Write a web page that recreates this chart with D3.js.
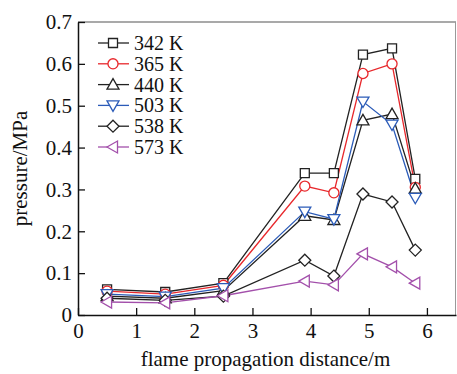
<!DOCTYPE html>
<html>
<head>
<meta charset="utf-8">
<script src="https://cdn.jsdelivr.net/npm/d3@7"></script>
<style>
  body { margin: 0; background: #fff; }
  svg text { font-family: "Liberation Serif", "Times New Roman", serif; }
</style>
</head>
<body>
<div id="chart"></div>
<script>
const distances = [0.5, 1.5, 2.5, 3.9, 4.4, 4.9, 5.4, 5.8];
const seriesNames = ['342 K', '365 K', '440 K', '503 K', '538 K', '573 K'];
const p342 = [0.061, 0.055, 0.076, 0.339, 0.339, 0.622, 0.637, 0.325];
const p365 = [0.057, 0.050, 0.071, 0.308, 0.292, 0.577, 0.600, 0.305];
const p440 = [0.045, 0.040, 0.058, 0.237, 0.227, 0.465, 0.480, 0.302];
const p503 = [0.050, 0.044, 0.064, 0.247, 0.229, 0.510, 0.455, 0.280];
const p538 = [0.040, 0.035, 0.045, 0.131, 0.093, 0.289, 0.270, 0.155];
const p573 = [0.031, 0.029, 0.046, 0.081, 0.072, 0.146, 0.115, 0.076];
const xTicks = [0, 1, 2, 3, 4, 5, 6];
const yTicks = [0, 0.1, 0.2, 0.3, 0.4, 0.5, 0.6, 0.7];

const series = [
  { name: seriesNames[0], values: p342, color: '#222', symbol: 'square' },
  { name: seriesNames[1], values: p365, color: '#e8282c', symbol: 'circle' },
  { name: seriesNames[2], values: p440, color: '#222', symbol: 'up' },
  { name: seriesNames[3], values: p503, color: '#2b5bb8', symbol: 'down' },
  { name: seriesNames[4], values: p538, color: '#222', symbol: 'diamond' },
  { name: seriesNames[5], values: p573, color: '#a350ab', symbol: 'left' }
];

const width = 457, height = 374;
const margin = { left: 78, right: 1, top: 22, bottom: 59 };
const fontSize = 21;

const svg = d3.select('#chart').append('svg')
  .attr('width', width)
  .attr('height', height);

const x = d3.scaleLinear().domain([0, 6.5]).range([margin.left, width - margin.right]);
const y = d3.scaleLinear().domain([0, 0.7]).range([height - margin.bottom, margin.top]);

// frame (top/right)
svg.append('line')
  .attr('x1', margin.left).attr('x2', width - margin.right)
  .attr('y1', margin.top).attr('y2', margin.top)
  .attr('stroke', '#555').attr('stroke-width', 1.2);
svg.append('line')
  .attr('x1', width - margin.right - 0.5).attr('x2', width - margin.right - 0.5)
  .attr('y1', margin.top).attr('y2', height - margin.bottom)
  .attr('stroke', '#999').attr('stroke-width', 1);

// axes with inward ticks
const xAxis = svg.append('g')
  .attr('transform', `translate(0,${height - margin.bottom})`)
  .call(d3.axisBottom(x).tickValues(xTicks).tickFormat(d3.format('d')).tickSizeInner(-7).tickSizeOuter(0).tickPadding(8));
const yAxis = svg.append('g')
  .attr('transform', `translate(${margin.left},0)`)
  .call(d3.axisLeft(y).tickValues(yTicks).tickFormat(d => d === 0 ? '0' : d3.format('.1f')(d)).tickSizeInner(-7).tickSizeOuter(0).tickPadding(6));

[xAxis, yAxis].forEach(g => {
  g.attr('font-family', null);
  g.select('.domain').attr('stroke', '#111').attr('stroke-width', 1.5);
  g.selectAll('.tick line').attr('stroke', '#111').attr('stroke-width', 1.3);
  g.selectAll('.tick text').attr('font-size', fontSize).attr('fill', '#111')
    .style('font-family', '"Liberation Serif", serif');
});

svg.append('text')
  .attr('x', (margin.left + width) / 2 - 2)
  .attr('y', 366)
  .attr('text-anchor', 'middle')
  .attr('font-size', fontSize)
  .attr('fill', '#111')
  .text('flame propagation distance/m');

svg.append('text')
  .attr('transform', `translate(27,${(margin.top + height - margin.bottom) / 2}) rotate(-90)`)
  .attr('text-anchor', 'middle')
  .attr('font-size', fontSize)
  .attr('fill', '#111')
  .text('pressure/MPa');

function markerPath(sym) {
  switch (sym) {
    case 'square': return 'M-4.5,-4.5H4.5V4.5H-4.5Z';
    case 'circle': return d3.symbol(d3.symbolCircle, 80)();
    case 'up': return 'M0,-6L6,4.5H-6Z';
    case 'down': return 'M0,6L6,-4.5H-6Z';
    case 'diamond': return 'M0,-6L6,0L0,6L-6,0Z';
    case 'left': return 'M-6,0L4.5,-6V6Z';
  }
}

const line = d3.line().x((d, i) => x(distances[i])).y(d => y(d));

const g = svg.append('g');
series.forEach(s => {
  g.append('path')
    .attr('d', line(s.values))
    .attr('fill', 'none')
    .attr('stroke', s.color)
    .attr('stroke-width', 1.3);
});
series.forEach(s => {
  g.selectAll(null)
    .data(s.values)
    .join('path')
    .attr('d', markerPath(s.symbol))
    .attr('transform', (d, i) => `translate(${x(distances[i])},${y(d)})`)
    .attr('fill', '#fff')
    .attr('stroke', s.color)
    .attr('stroke-width', 1.3);
});

// legend
const legend = svg.append('g').attr('transform', 'translate(98,43)');
series.forEach((s, i) => {
  const row = legend.append('g').attr('transform', `translate(0,${i * 20.8})`);
  row.append('line').attr('x1', 0).attr('x2', 31).attr('y1', 0).attr('y2', 0)
    .attr('stroke', s.color).attr('stroke-width', 1.3);
  row.append('path').attr('d', markerPath(s.symbol))
    .attr('transform', 'translate(15,0)')
    .attr('fill', '#fff').attr('stroke', s.color).attr('stroke-width', 1.3);
  row.append('text').attr('x', 36).attr('y', 7)
    .attr('font-size', 20).attr('fill', '#111').text(s.name);
});
</script>
</body>
</html>
